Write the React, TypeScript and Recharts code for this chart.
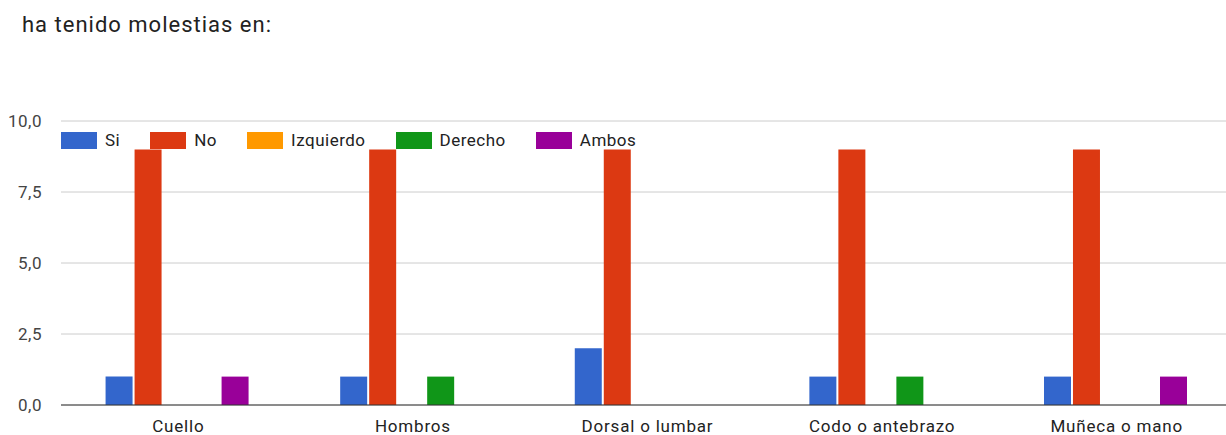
import { BarChart, Bar, XAxis, YAxis, CartesianGrid } from "recharts"

const categories = ["Cuello", "Hombros", "Dorsal o lumbar", "Codo o antebrazo", "Muñeca o mano"]
const si = [1, 1, 2, 1, 1]
const no = [9, 9, 9, 9, 9]
const izquierdo = [0, 0, 0, 0, 0]
const derecho = [0, 1, 0, 1, 0]
const ambos = [1, 0, 0, 0, 1]
const yTicks = [0, 2.5, 5, 7.5, 10]

const seriesInfo = [
  { key: "si", name: "Si", color: "#3366cc" },
  { key: "no", name: "No", color: "#dc3912" },
  { key: "izquierdo", name: "Izquierdo", color: "#ff9900" },
  { key: "derecho", name: "Derecho", color: "#109618" },
  { key: "ambos", name: "Ambos", color: "#990099" },
]

const chartData = categories.map((name, i) => ({
  name,
  si: si[i],
  no: no[i],
  izquierdo: izquierdo[i],
  derecho: derecho[i],
  ambos: ambos[i],
}))

const font = "Roboto, Arial, sans-serif"

// legend sits inside the plot area, just under the top gridline
function LegendRow() {
  return (
    <div
      style={{
        position: "absolute", left: 61, top: 132, display: "flex", alignItems: "center",
        fontFamily: font, fontSize: 17, letterSpacing: 0.5, color: "#222", lineHeight: "17px",
      }}
    >
      {seriesInfo.map(s => (
        <div key={s.key} style={{ display: "flex", alignItems: "center", marginRight: 30 }}>
          <span style={{ display: "inline-block", width: 36, height: 17, background: s.color, marginRight: 8 }} />
          <span>{s.name}</span>
        </div>
      ))}
    </div>
  )
}

export default function App() {
  return (
    <div style={{ position: "absolute", left: 0, top: 0, width: 1226, height: 435, overflow: "hidden", background: "#fff" }}>
      <div style={{ position: "absolute", left: 22, top: 12, fontFamily: font, fontSize: 22, letterSpacing: 1, color: "#222" }}>
        ha tenido molestias en:
      </div>
      <BarChart
        width={1240}
        height={435}
        data={chartData}
        margin={{ top: 121, right: 6, bottom: 0, left: 6 }}
        barCategoryGap="19%"
        barGap={2}
      >
        <CartesianGrid vertical={false} stroke="#cccccc" />
        <XAxis
          dataKey="name"
          height={30}
          stroke="#333333"
          tickLine={false}
          tickSize={0}
          tickMargin={15}
          tick={{ fill: "#222", fontSize: 17, fontFamily: font, letterSpacing: 0.8 }}
        />
        <YAxis
          width={55}
          domain={[0, 10]}
          ticks={yTicks}
          axisLine={false}
          tickLine={false}
          tickSize={0}
          tickMargin={19}
          tick={{ fill: "#444", fontSize: 17, fontFamily: font, letterSpacing: 0.5 }}
          tickFormatter={(v: number) => v.toFixed(1).replace(".", ",")}
        />
        {seriesInfo.map(s => (
          <Bar key={s.key} dataKey={s.key} name={s.name} fill={s.color} isAnimationActive={false} />
        ))}
      </BarChart>
      <LegendRow />
    </div>
  )
}
